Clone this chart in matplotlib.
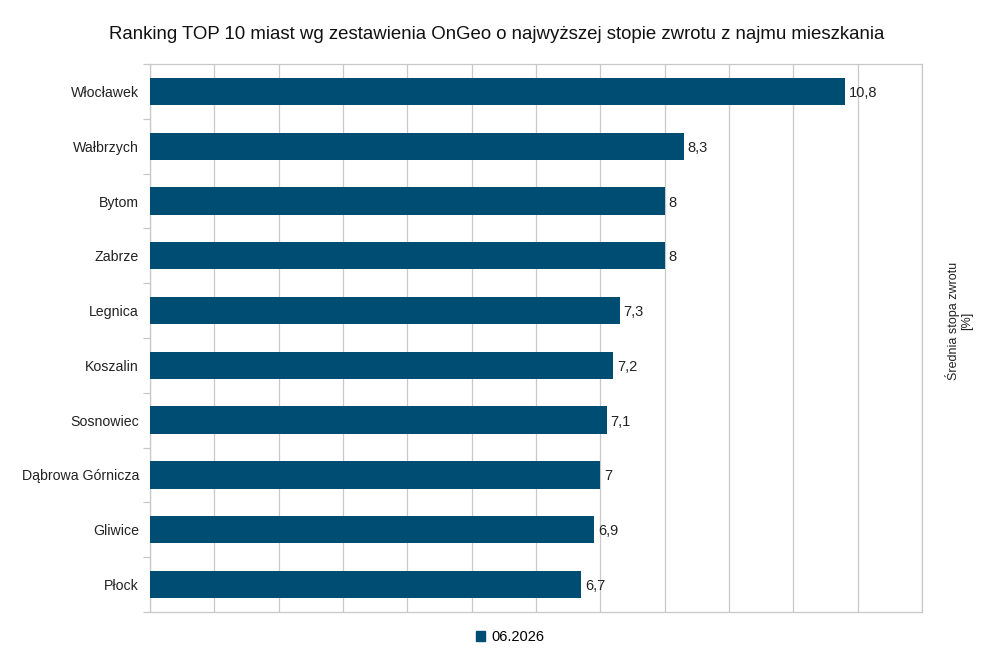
import matplotlib
matplotlib.use("Agg")
import matplotlib.pyplot as plt
from matplotlib.patches import Patch

cities = ["Włocławek", "Wałbrzych", "Bytom", "Zabrze", "Legnica", "Koszalin",
          "Sosnowiec", "Dąbrowa Górnicza", "Gliwice", "Płock"]
values = [10.8, 8.3, 8.0, 8.0, 7.3, 7.2, 7.1, 7.0, 6.9, 6.7]
value_labels = ["10,8", "8,3", "8", "8", "7,3", "7,2", "7,1", "7", "6,9", "6,7"]
series_name = "06.2026"
title = "Ranking TOP 10 miast wg zestawienia OnGeo o najwyższej stopie zwrotu z najmu mieszkania"
axis_title = "Średnia stopa zwrotu\n[%]"

plt.rcParams['font.family'] = ['Liberation Sans', 'DejaVu Sans']
color = '#004d73'
grid_c = '#c8c8c8'

fig = plt.figure(figsize=(10, 6.58), dpi=100)
ax = fig.add_axes([0.15, 0.07, 0.772, 0.8327])

ypos = list(range(len(cities)))
ax.barh(ypos, values, height=0.5, color=color, zorder=3)
ax.set_ylim(len(cities) - 0.5, -0.5)
ax.set_xlim(0, 12)
ax.set_xticks(range(0, 13))
ax.set_xticklabels([])
ax.tick_params(axis='x', length=0)
ax.grid(axis='x', color=grid_c, linewidth=0.9, zorder=0)

ax.set_yticks(ypos)
ax.set_yticklabels(cities, fontsize=10.2, color='#222222')
ax.set_yticks([i - 0.5 for i in range(len(cities) + 1)], minor=True)
ax.tick_params(axis='y', which='major', length=0, pad=8)
ax.tick_params(axis='y', which='minor', length=5, color=grid_c, width=0.9)

for s in ax.spines.values():
    s.set_color(grid_c)
    s.set_linewidth(0.9)

for y, v, lab in zip(ypos, values, value_labels):
    ax.text(v + 0.06, y, lab, va='center_baseline', ha='left', fontsize=10.5, color='#222222')

fig.text(0.497, 0.947, title, ha='center', va='center', fontsize=13.4, color='#111111')
fig.text(0.959, 0.513, axis_title, rotation=90, ha='center', va='center',
         fontsize=9, color='#222222', multialignment='center')

handles = [Patch(facecolor=color, edgecolor=color, label=series_name)]
fig.legend(handles=handles, loc='center', bbox_to_anchor=(0.51, 0.032), frameon=False,
           fontsize=10.5, handlelength=0.65, handleheight=0.65, handletextpad=0.4)

fig.savefig("out.png", dpi=100)
